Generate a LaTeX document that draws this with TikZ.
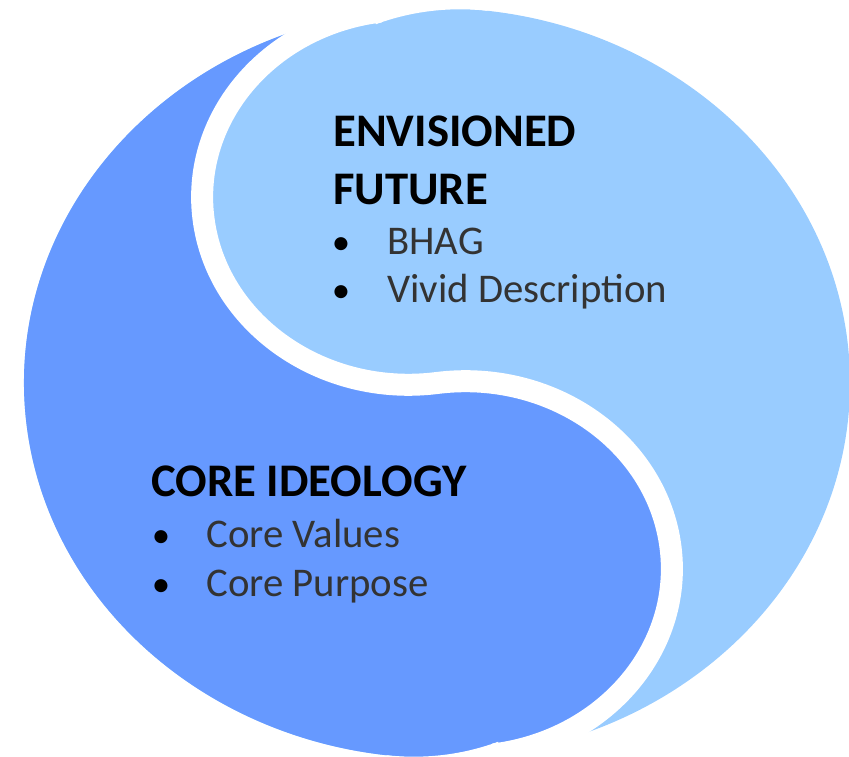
\documentclass[tikz,border=0pt]{standalone}
\usepackage{fontspec}
\setmainfont{Carlito}
\usepackage{tikz}
\usetikzlibrary{positioning}
\definecolor{coreblue}{HTML}{6699FF}
\definecolor{futureblue}{HTML}{99CCFF}
\tikzset{head/.style = {anchor=base west,inner sep=0,font=\fontsize{26.6}{30}\selectfont\bfseries}}
\tikzset{item/.style = {anchor=base west,inner sep=0,text=black!80,font=\fontsize{23.2}{28}\selectfont}}
\tikzset{dot/.style = {anchor=base,inner sep=0,font=\fontsize{21}{28}\selectfont}}
\tikzset{gap/.style = {white,line width=0.44cm}}

\begin{document}
\begin{tikzpicture}[x=0.02cm,y=0.02cm]
        \useasboundingbox (0,0) rectangle (849,757);
        \begin{scope}[shift={(437,374)},xscale=413,yscale=375]
            \fill [futureblue] (0,0) circle [radius=1];
            \fill [coreblue] (97.9:1) arc [start angle=97.9,end angle=277.9,radius=0.5]
                arc [start angle=97.9,end angle=-82.1,radius=0.5]
                arc [start angle=277.9,end angle=97.9,radius=1] -- cycle;
            \draw [gap] (97.9:1) arc [start angle=97.9,end angle=277.9,radius=0.5]
                arc [start angle=97.9,end angle=-82.1,radius=0.5];
            % the gap thins out along the rim at both ends
            \begin{scope}
                \clip (0,0) -- (83:1.2) arc [start angle=83,end angle=98.8,radius=1.2] -- cycle;
                \fill [white,even odd rule] (0,0) circle [radius=1.1] (83:0.46) circle [radius=0.54];
            \end{scope}
            \begin{scope}
                \clip (0,0) -- (263:1.2) arc [start angle=263,end angle=278.8,radius=1.2] -- cycle;
                \fill [white,even odd rule] (0,0) circle [radius=1.1] (263:0.46) circle [radius=0.54];
            \end{scope}
        \end{scope}
        \node [head] (envisioned) at (333,610) {ENVISIONED};
        \node [head] (future) at (333,552) {FUTURE};
        \node [dot] (b1) at (341,502) {•};
        \node [item] (bhag) at (387,502) {BHAG};
        \node [dot] (b2) at (341,454) {•};
        \node [item] (vivid) at (387,454) {Vivid Description};
        \node [head] (core) at (151,260) {CORE IDEOLOGY};
        \node [dot] (b3) at (161,209) {•};
        \node [item] (values) at (206,209) {Core Values};
        \node [dot] (b4) at (161,160) {•};
        \node [item] (purpose) at (206,160) {Core Purpose};
    \end{tikzpicture}
\end{document}
